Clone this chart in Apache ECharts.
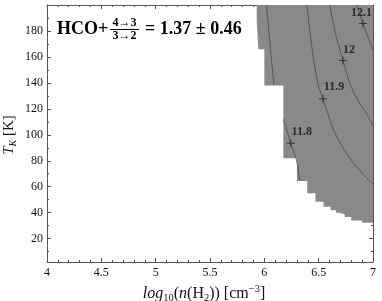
<!DOCTYPE html>
<html>
<head>
<meta charset="utf-8">
<script src="https://cdn.jsdelivr.net/npm/echarts@6/dist/echarts.min.js"></script>
<style>
html,body{margin:0;padding:0;background:#fff;}
#chart{width:382px;height:301px;}
</style>
</head>
<body>
<div id="chart"></div>
<script>
// ---- data ----
const yMajorTicks = [20, 40, 60, 80, 100, 120, 140, 160, 180];
const yMinorTicks = [10, 30, 50, 70, 90, 110, 130, 150, 170, 190];
// lower boundary (T_K) of the shaded region, step starting at each x
const regionX   = [5.93, 5.945, 6.0, 6.175, 6.3, 6.395, 6.47, 6.545, 6.61, 6.66, 6.695, 6.74, 6.8, 6.9, 7.0];
const regionLowT = [188, 166, 138, 82, 64.5, 55, 48.5, 44.5, 41.8, 40, 38.5, 36.6, 34, 32.2, 32.2];
// contour lines
const c118aX = [6.02, 6.041, 6.066, 6.089];
const c118aT = [200, 180.3, 157.4, 138.5];
const c118bX = [6.175, 6.21, 6.243, 6.296, 6.326];
const c118bT = [112, 103, 93.5, 80.6, 64.8];
const c119X = [6.393, 6.418, 6.455, 6.5, 6.54, 6.629, 6.693, 6.748, 6.84, 6.923, 7.0];
const c119T = [200, 180.3, 157.4, 137, 127.7, 105.2, 94.5, 86.8, 76.1, 68.4, 62.2];
const c120X = [6.602, 6.648, 6.724, 6.786, 6.859, 6.938, 7.0];
const c120T = [200, 180.3, 157.3, 139.8, 126.7, 116.8, 106.8];
const c121X = [6.85, 6.88, 6.907, 6.955, 7.0];
const c121T = [200, 193, 185.7, 175, 165];
const contourLabels = ['11.8', '11.9', '12', '12.1'];
const markerX = [6.243, 6.54, 6.724, 6.907];
const markerT = [93.5, 127.7, 157.3, 185.7];

// ---- styling helpers ----
const labelOffsets = [[11, -11.5], [11, -11.7], [6, -11], [-1.5, -10.5]];
const frameColor = '#555';
const serif = '"Liberation Serif", "DejaVu Serif", serif';
const zip = (xs, ys) => xs.map((x, i) => [x, ys[i]]);
const contourStyle = { color: '#4a4a4a', width: 0.8 };

function contourSeries(xs, ts) {
  return {
    type: 'line', data: zip(xs, ts), smooth: 0.3, symbol: 'none',
    lineStyle: contourStyle, xAxisIndex: 0, yAxisIndex: 0, z: 3, silent: true
  };
}

const chart = echarts.init(document.getElementById('chart'), null, { renderer: 'canvas' });

const baseX = {
  type: 'value', min: 4, max: 7, interval: 0.5,
  axisLine: { show: true, lineStyle: { color: frameColor, width: 1 } },
  axisTick: { show: true, inside: true, length: 4, lineStyle: { color: frameColor } },
  minorTick: { show: true, splitNumber: 5, length: 2, lineStyle: { color: frameColor } },
  splitLine: { show: false }, minorSplitLine: { show: false }
};

function yAx(position, ticks, len, showLabel, showLine) {
  return {
    type: 'value', min: 2, max: 200, position: position,
    axisLine: { show: showLine, onZero: false, lineStyle: { color: frameColor, width: 1 } },
    axisTick: { show: true, inside: true, length: len, customValues: ticks, lineStyle: { color: frameColor } },
    axisLabel: showLabel ? { show: true, customValues: ticks, color: '#111', fontFamily: serif, fontSize: 12, margin: 4 } : { show: false },
    splitLine: { show: false }
  };
}

const yAxes = [
  yAx('left', yMajorTicks, 4, true, true),
  yAx('left', yMinorTicks, 2, false, false),
  yAx('right', yMajorTicks, 4, false, true),
  yAx('right', yMinorTicks, 2, false, false)
];

const xAxes = [
  Object.assign({}, baseX, {
    position: 'bottom',
    axisLabel: { show: true, color: '#111', fontFamily: serif, fontSize: 12, margin: 5 },
    name: '{it|log}{sub|10}{n|(}{it|n}{n|(H}{sub|2}{n|)) [cm}{sup|−3}{n|]}',
    nameLocation: 'middle', nameGap: 21,
    nameTextStyle: {
      padding: [0, 12, 0, 0],
      rich: {
        it: { fontFamily: serif, fontStyle: 'italic', fontSize: 16, color: '#111', lineHeight: 20, verticalAlign: 'middle' },
        n: { fontFamily: serif, fontSize: 16, color: '#111', lineHeight: 20, verticalAlign: 'middle' },
        sub: { fontFamily: serif, fontSize: 10.5, color: '#111', lineHeight: 10, verticalAlign: 'bottom' },
        sup: { fontFamily: serif, fontSize: 10.5, color: '#111', lineHeight: 10, verticalAlign: 'top' }
      }
    }
  }),
  Object.assign({}, baseX, { position: 'top', axisLabel: { show: false } })
];

const markerData = markerX.map((x, i) => ({
  value: [x, markerT[i]],
  label: { offset: labelOffsets[i], formatter: contourLabels[i] }
}));

const option = {
  animation: false,
  backgroundColor: '#fff',
  grid: { left: 47, right: 9, top: 5, bottom: 39, containLabel: false, outerBoundsMode: 'none' },
  xAxis: xAxes,
  yAxis: yAxes,
  series: [
    {
      type: 'line', data: zip(regionX, regionLowT), step: 'end', symbol: 'none',
      lineStyle: { width: 0, color: '#898989' },
      areaStyle: { color: '#898989', opacity: 1, origin: 'end' },
      xAxisIndex: 0, yAxisIndex: 0, z: 2, silent: true
    },
    contourSeries(c118aX, c118aT),
    contourSeries(c118bX, c118bT),
    contourSeries(c119X, c119T),
    contourSeries(c120X, c120T),
    contourSeries(c121X, c121T),
    {
      type: 'scatter', data: markerData, xAxisIndex: 0, yAxisIndex: 0, z: 5,
      symbol: 'path://M0,5L10,5M5,0L5,10', symbolSize: 8,
      itemStyle: { color: 'rgba(0,0,0,0)', borderColor: '#222', borderWidth: 1 },
      label: {
        show: true, position: 'inside', align: 'center', verticalAlign: 'middle',
        fontFamily: serif, fontWeight: 'bold', fontSize: 12, color: '#111'
      },
      silent: true
    }
  ],
  graphic: [
    {
      type: 'text', x: 9, y: 135, rotation: Math.PI / 2,
      style: {
        text: '{it|T}{sub|K}{n| [K]}', align: 'center', verticalAlign: 'middle',
        rich: {
          it: { fontFamily: serif, fontStyle: 'italic', fontSize: 15, fill: '#111', lineHeight: 18, verticalAlign: 'middle' },
          sub: { fontFamily: serif, fontStyle: 'italic', fontSize: 10, fill: '#111', lineHeight: 10, verticalAlign: 'bottom' },
          n: { fontFamily: serif, fontSize: 15, fill: '#111', lineHeight: 18, verticalAlign: 'middle' }
        }
      }
    },
    { type: 'text', x: 57, y: 29.5, style: { text: 'HCO+', font: 'bold 18px ' + serif, fill: '#000', textAlign: 'left', textVerticalAlign: 'middle' } },
    { type: 'text', x: 124.5, y: 22.5, style: { text: '4→3', font: 'bold 12px ' + serif, fill: '#000', textAlign: 'center', textVerticalAlign: 'middle' } },
    { type: 'line', shape: { x1: 110, y1: 29.5, x2: 139, y2: 29.5 }, style: { stroke: '#000', lineWidth: 1 } },
    { type: 'text', x: 124.5, y: 36, style: { text: '3→2', font: 'bold 12px ' + serif, fill: '#000', textAlign: 'center', textVerticalAlign: 'middle' } },
    { type: 'text', x: 145, y: 29.5, style: { text: '= 1.37 ± 0.46', font: 'bold 18px ' + serif, fill: '#000', textAlign: 'left', textVerticalAlign: 'middle' } }
  ]
};

chart.setOption(option);
</script>
</body>
</html>
